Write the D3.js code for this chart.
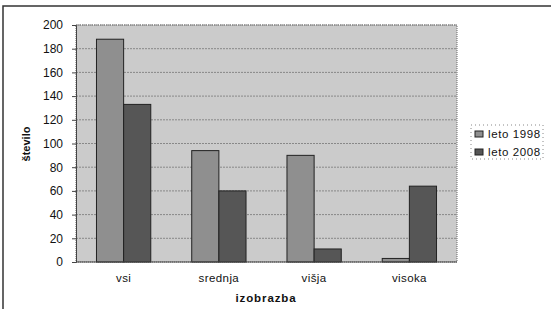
<!DOCTYPE html>
<meta charset="utf-8">
<style>
  body { margin: 0; background: #fff; }
  text { font-family: "Liberation Sans", Arial, sans-serif; fill: #111; }
</style>
<body>
<div id="chart"></div>
<script src="https://d3js.org/d3.v7.min.js"></script>
<script>

var categories = ["vsi", "srednja", "višja", "visoka"];
var seriesNames = ["leto 1998", "leto 2008"];
var leto1998 = [188, 94, 90, 3];
var leto2008 = [133, 60, 11, 64];
var yTicks = [0, 20, 40, 60, 80, 100, 120, 140, 160, 180, 200];

var width = 551,
    height = 310;

var plot = { left: 76, right: 457, top: 25, bottom: 262 };

var svg = d3.select("#chart").append("svg")
    .attr("width", width)
    .attr("height", height);

// outer frame
svg.append("path")
    .attr("d", "M3,309 V6 H551")
    .attr("fill", "none")
    .attr("stroke", "#333")
    .attr("stroke-width", 1.5);

var x0 = d3.scaleBand()
    .domain(categories)
    .range([plot.left, plot.right])
    .paddingInner(0.43)
    .paddingOuter(0.215);

var x1 = d3.scaleBand()
    .domain(seriesNames)
    .range([0, x0.bandwidth()]);

var y = d3.scaleLinear()
    .domain([0, 200])
    .range([plot.bottom, plot.top]);

var color = d3.scaleOrdinal()
    .domain(seriesNames)
    .range(["#8f8f8f", "#565656"]);

// plot background
svg.append("rect")
    .attr("x", plot.left)
    .attr("y", plot.top)
    .attr("width", plot.right - plot.left)
    .attr("height", plot.bottom - plot.top)
    .attr("fill", "#cbcbcb")
    .attr("stroke", "#666")
    .attr("stroke-dasharray", "1,1");

// gridlines
svg.append("g").selectAll("line")
    .data(yTicks.filter(function(d) { return d > 0; }))
  .enter().append("line")
    .attr("x1", plot.left)
    .attr("x2", plot.right)
    .attr("y1", function(d) { return y(d); })
    .attr("y2", function(d) { return y(d); })
    .attr("stroke", "#888")
    .attr("stroke-dasharray", "2,1");

// y axis
var yAxis = svg.append("g")
    .attr("transform", "translate(" + plot.left + ",0)")
    .call(d3.axisLeft(y).tickValues(yTicks).tickSize(4).tickPadding(9));
yAxis.select(".domain").attr("stroke", "#444");
yAxis.selectAll(".tick line").attr("stroke", "#444");
yAxis.selectAll("text")
    .attr("font-size", 12)
    .attr("font-family", "Liberation Sans, Arial, sans-serif")
    .attr("fill", "#111");

// bars
var rows = categories.map(function(c, i) {
  return { cat: c, values: [leto1998[i], leto2008[i]] };
});

var groups = svg.append("g").selectAll("g")
    .data(rows)
  .enter().append("g")
    .attr("transform", function(d) { return "translate(" + x0(d.cat) + ",0)"; });

groups.selectAll("rect")
    .data(function(d) {
      return d.values.map(function(v, j) { return { key: seriesNames[j], value: v }; });
    })
  .enter().append("rect")
    .attr("x", function(d) { return x1(d.key); })
    .attr("y", function(d) { return y(d.value); })
    .attr("width", x1.bandwidth())
    .attr("height", function(d) { return y(0) - y(d.value); })
    .attr("fill", function(d) { return color(d.key); })
    .attr("stroke", "#222")
    .attr("stroke-width", 1);

// baseline
svg.append("line")
    .attr("x1", plot.left)
    .attr("x2", plot.right)
    .attr("y1", y(0))
    .attr("y2", y(0))
    .attr("stroke", "#444");

// x category labels
svg.append("g").selectAll("text")
    .data(categories)
  .enter().append("text")
    .attr("x", function(d) { return x0(d) + x0.bandwidth() / 2; })
    .attr("y", 282)
    .attr("text-anchor", "middle")
    .attr("font-size", 11.5)
    .attr("letter-spacing", 0.4)
    .text(function(d) { return d; });

// axis titles
svg.append("text")
    .attr("x", 266)
    .attr("y", 302)
    .attr("text-anchor", "middle")
    .attr("font-size", 11.5)
    .attr("font-weight", "bold")
    .attr("letter-spacing", 0.9)
    .text("izobrazba");

svg.append("text")
    .attr("transform", "translate(30,144) rotate(-90)")
    .attr("text-anchor", "middle")
    .attr("font-size", 11)
    .attr("font-weight", "bold")
    .text("število");

// legend
var legend = svg.append("g");
legend.append("rect")
    .attr("x", 471)
    .attr("y", 125)
    .attr("width", 72)
    .attr("height", 34)
    .attr("fill", "#fff")
    .attr("stroke", "#888")
    .attr("stroke-dasharray", "1,3");

var items = legend.selectAll("g.item")
    .data(seriesNames)
  .enter().append("g")
    .attr("class", "item")
    .attr("transform", function(d, i) { return "translate(475," + (134 + i * 18) + ")"; });

items.append("rect")
    .attr("x", 0)
    .attr("y", -3)
    .attr("width", 8)
    .attr("height", 6)
    .attr("fill", function(d) { return color(d); })
    .attr("stroke", "#222");

items.append("text")
    .attr("x", 13)
    .attr("y", 4)
    .attr("font-size", 11.5)
    .attr("letter-spacing", 0.6)
    .text(function(d) { return d; });

</script>
</body>
